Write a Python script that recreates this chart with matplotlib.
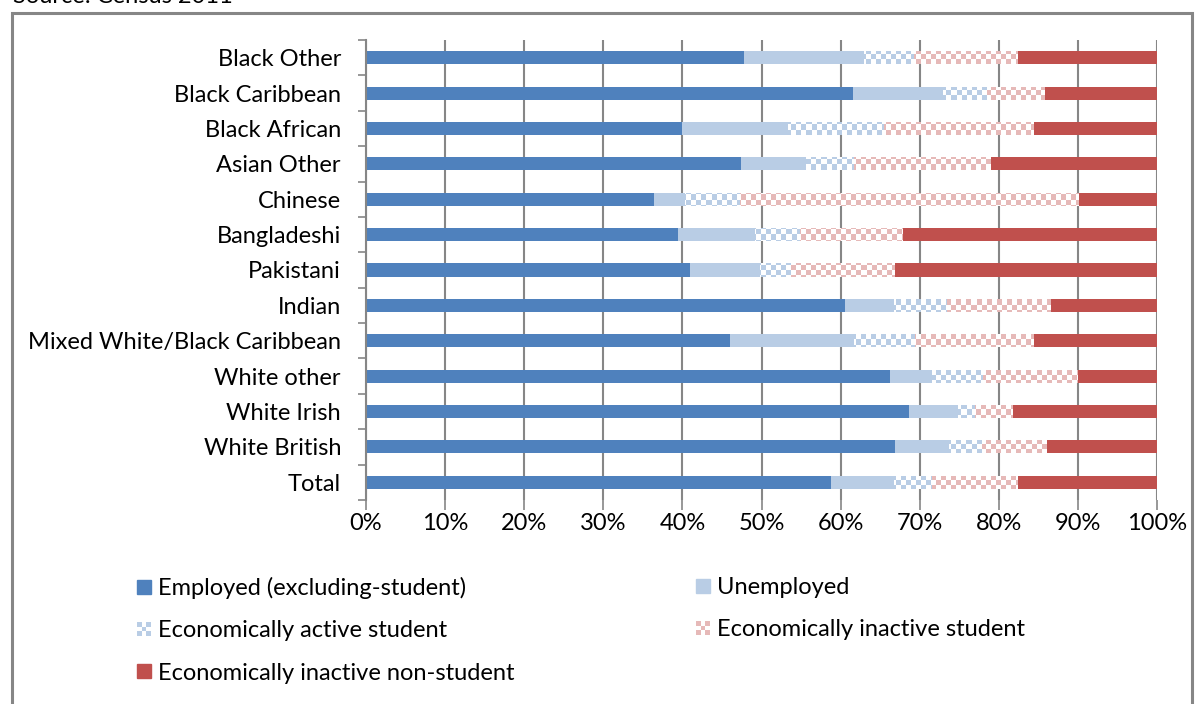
import numpy as np
import matplotlib
matplotlib.use("Agg")
from matplotlib import pyplot as plt
from matplotlib.patches import Rectangle, Patch
from matplotlib.legend_handler import HandlerBase

# ethnic groups, top to bottom as in the chart
groups = ["Black Other", "Black Caribbean", "Black African", "Asian Other",
          "Chinese", "Bangladeshi", "Pakistani", "Indian",
          "Mixed White/Black Caribbean", "White other", "White Irish",
          "White British", "Total"]

# share of each group (%)
employed = [47.8, 61.6, 39.9, 47.4, 36.4, 39.4, 41.0, 60.6, 46.0, 66.2, 68.6, 66.9, 58.8]
unemployed = [15.2, 11.3, 13.4, 8.2, 3.9, 9.8, 8.8, 6.2, 15.7, 5.4, 6.2, 6.8, 8.0]
active_student = [6.3, 5.6, 12.2, 6.1, 7.0, 5.7, 3.9, 6.6, 7.7, 6.4, 2.2, 4.2, 4.8]
inactive_student = [13.1, 7.3, 18.9, 17.3, 42.8, 12.9, 13.1, 13.1, 15.0, 11.9, 4.8, 8.1, 10.8]
inactive_other = [17.6, 14.2, 15.6, 21.0, 9.9, 32.2, 33.2, 13.5, 15.6, 10.1, 18.2, 14.0, 17.6]

series_names = ["Employed (excluding-student)", "Unemployed",
                "Economically active student", "Economically inactive student",
                "Economically inactive non-student"]
colors = ["#4F81BD", "#B9CDE5", "#B9CDE5", "#E6B9B8", "#C0504D"]
checkered = [False, False, True, True, False]

FONT = "Lato"
FS = 17
GRID = "#868686"

plt.rcParams["font.family"] = [FONT, "DejaVu Sans"]


def checker_image(color, h, w, cell=5):
    rgb = matplotlib.colors.to_rgb(color)
    yy, xx = np.mgrid[0:h, 0:w]
    mask = ((yy // cell + xx // cell) % 2) == 0
    img = np.ones((h, w, 3))
    img[mask] = rgb
    return img


class CheckerHandler(HandlerBase):
    def __init__(self, color):
        super().__init__()
        self.color = color

    def create_artists(self, legend, orig_handle, xdescent, ydescent,
                       width, height, fontsize, trans):
        arts = []
        n = 3
        w = width / n
        h = height / n
        for i in range(n):
            for j in range(n):
                if (i + j) % 2 == 0:
                    arts.append(Rectangle((-xdescent + i * w, -ydescent + j * h), w, h,
                                          facecolor=self.color, lw=0, transform=trans))
        return arts


W, H = 1200, 704
fig = plt.figure(figsize=(W / 100, H / 100), dpi=100)
ax_l, ax_r, ax_t, ax_b = 366, 1157, 40, 500
ax = fig.add_axes([ax_l / W, 1 - ax_b / H, (ax_r - ax_l) / W, (ax_b - ax_t) / H])

n = len(groups)
y = np.arange(n)
data = [employed, unemployed, active_student, inactive_student, inactive_other]
left = np.zeros(n)
ax.set_xlim(0, 1)
ax.set_ylim(n - 0.5, -0.5)

for vals, col, chk in zip(data, colors, checkered):
    v = np.array(vals) / 100.0
    bars = ax.barh(y, v, left=left, height=0.37,
                   color="white" if chk else col, lw=0, zorder=2)
    if chk:
        img = checker_image(col, ax_b - ax_t, ax_r - ax_l)
        for b in bars:
            im = ax.imshow(img, extent=(0, 1, n - 0.5, -0.5), aspect="auto",
                           interpolation="nearest", zorder=3)
            im.set_clip_path(b)
    left = left + v

ax.set_xlim(0, 1)
ax.set_ylim(n - 0.5, -0.5)

ax.set_xticks(np.arange(0, 1.01, 0.1))
ax.set_xticklabels([f"{int(round(t * 100))}%" for t in np.arange(0, 1.01, 0.1)])
ax.tick_params(axis="x", length=7.2, width=1.2, color=GRID, pad=2, labelsize=FS)
ax.set_yticks(y)
ax.set_yticklabels(groups)
ax.tick_params(axis="y", length=0, pad=18, labelsize=FS)
ax.set_yticks(np.arange(-0.5, n, 1.0), minor=True)
ax.tick_params(axis="y", which="minor", length=6, width=1.2, color=GRID)

ax.grid(axis="x", color=GRID, lw=1.5)
ax.set_axisbelow(True)
for s in ["top", "right", "bottom"]:
    ax.spines[s].set_visible(False)
ax.spines["left"].set_color(GRID)
ax.spines["left"].set_linewidth(1.5)

# legend, two columns
handles = [Patch(color=c) for c in colors]
hmap = {handles[2]: CheckerHandler(colors[2]), handles[3]: CheckerHandler(colors[3])}
leg_kw = dict(loc="upper left", frameon=False, fontsize=FS, handlelength=0.6,
              handleheight=0.52, handletextpad=0.3, labelspacing=0.9,
              borderpad=0, borderaxespad=0, handler_map=hmap)
fig.legend([handles[0], handles[2], handles[4]],
           [series_names[0], series_names[2], series_names[4]],
           bbox_to_anchor=(137 / W, 1 - 577 / H), **leg_kw)
fig.legend([handles[1], handles[3]],
           [series_names[1], series_names[3]],
           bbox_to_anchor=(696 / W, 1 - 577 / H), **leg_kw)

# chart frame and source note
fig.add_artist(Rectangle((12 / W, -0.1), 1180 / W, 1.1 - 13 / H, transform=fig.transFigure,
                         fill=False, edgecolor=GRID, lw=2.2))
fig.text(13 / W, 1 - 3 / H, "Source: Census 2011", fontsize=FS, va="baseline", ha="left")

fig.savefig("out.png", dpi=100)
